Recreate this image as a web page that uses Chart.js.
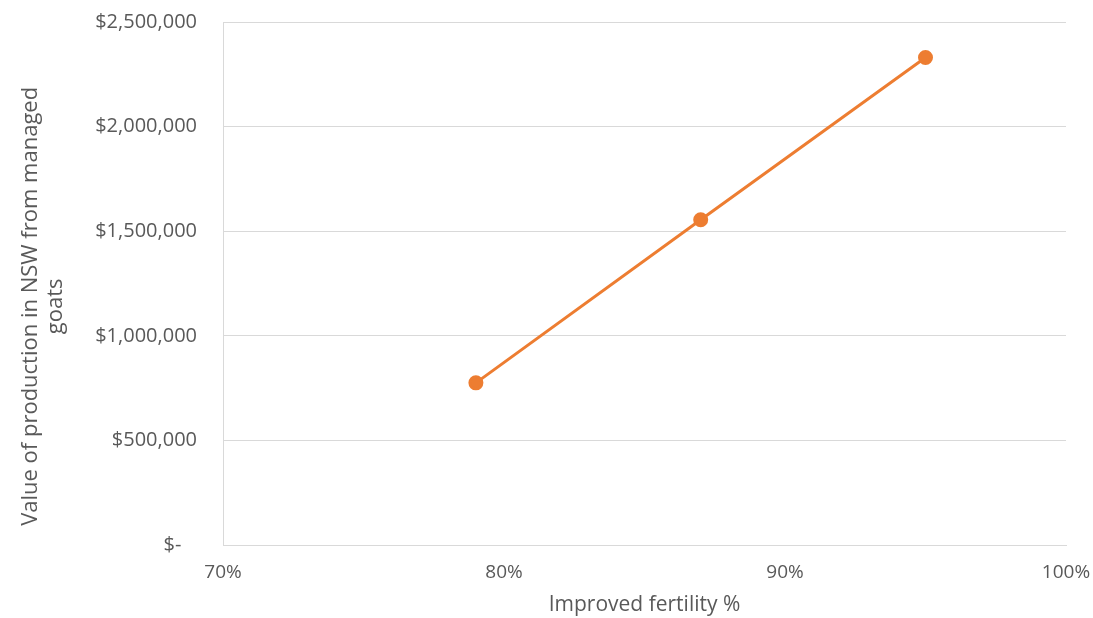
<!DOCTYPE html>
<html>
<head>
<meta charset="utf-8">
<script src="https://cdn.jsdelivr.net/npm/chart.js@4"></script>
<style>
  html, body { margin: 0; padding: 0; background: #fff; }
  #wrap { width: 1093px; height: 618px; position: relative; }
</style>
</head>
<body>
<div id="wrap"><canvas id="fertChart"></canvas></div>
<script>
const fertility = [79, 87, 95];              // improved fertility %
const production = [775000, 1555000, 2330000]; // value of production ($)
const xTicks = [70, 80, 90, 100];
const yTicks = [0, 500000, 1000000, 1500000, 2000000, 2500000];

const textColor = '#595959';
const gridColor = '#d9d9d9';
const orange = '#ed7d31';

function money(v) {
    if (v === 0) return '$-   ';
    return '$' + v.toLocaleString('en-US');
}

// trailing spaces push the rotated title a little lower, like the original
const pad = '        ';

const ctx = document.getElementById('fertChart').getContext('2d');
new Chart(ctx, {
    type: 'line',
    data: {
        datasets: [{
            data: fertility.map((f, i) => ({ x: f, y: production[i] })),
            borderColor: orange,
            backgroundColor: orange,
            borderWidth: 3,
            pointRadius: 6,
            pointHoverRadius: 6,
            tension: 0
        }]
    },
    options: {
        responsive: true,
        maintainAspectRatio: false,
        animation: false,
        layout: { padding: { top: 22, right: 27, left: 0, bottom: 0 } },
        plugins: { legend: { display: false }, tooltip: { enabled: false } },
        scales: {
            x: {
                type: 'linear',
                min: 70, max: 100,
                afterBuildTicks: s => { s.ticks = xTicks.map(v => ({ value: v })); },
                grid: { display: false, drawTicks: false },
                border: { color: gridColor, width: 1 },
                ticks: {
                    color: textColor, padding: 16,
                    font: { family: 'Open Sans', size: 19 },
                    maxRotation: 0,
                    callback: v => v + '%'
                },
                title: {
                    display: true, text: 'Improved fertility %', color: textColor,
                    font: { family: 'Open Sans', size: 21 },
                    padding: { top: 4, bottom: 0 }
                },
                afterFit: s => {
                    s.height = 73;
                    s.paddingLeft = 0;
                    s.paddingRight = 0;
                }
            },
            y: {
                min: 0, max: 2500000,
                afterBuildTicks: s => { s.ticks = yTicks.map(v => ({ value: v })); },
                grid: { color: gridColor, drawTicks: false },
                border: { color: gridColor, width: 1 },
                ticks: {
                    color: textColor, padding: 26,
                    font: { family: 'Open Sans', size: 20 },
                    callback: v => money(v)
                },
                title: {
                    display: true,
                    text: ['Value of production in NSW from managed' + pad, 'goats' + pad],
                    color: textColor,
                    font: { family: 'Open Sans', size: 22, lineHeight: 1.15 },
                    padding: { top: 18, bottom: 0 }
                },
                afterFit: s => {
                    s.width = 223;
                    s.paddingTop = 0;
                    s.paddingBottom = 0;
                }
            }
        }
    }
});
</script>
</body>
</html>
